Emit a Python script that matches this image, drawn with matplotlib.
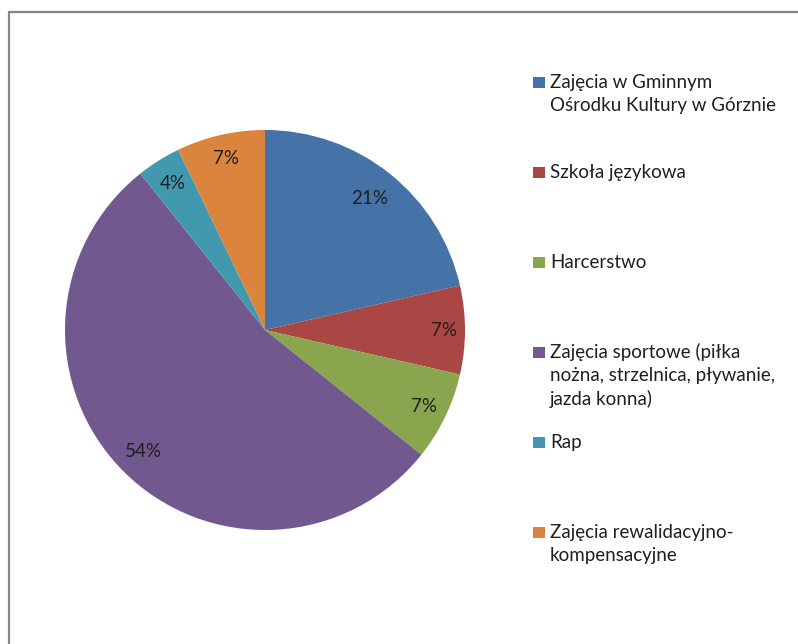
import matplotlib
matplotlib.use("Agg")
import numpy as np
import matplotlib.pyplot as plt
from matplotlib.patches import Rectangle

categories = [
    "Zajęcia w Gminnym\nOśrodku Kultury w Górznie",
    "Szkoła językowa",
    "Harcerstwo",
    "Zajęcia sportowe (piłka\nnożna, strzelnica, pływanie,\njazda konna)",
    "Rap",
    "Zajęcia rewalidacyjno-\nkompensacyjne",
]
values = [6, 2, 2, 15, 1, 2]
colors = ["#4572A7", "#AA4643", "#89A54E", "#71588F", "#4198AF", "#DB843D"]
label_dist = [0.84, 0.895, 0.885, 0.86, 0.865, 0.88]

W, H = 798, 644
fig = plt.figure(figsize=(W / 100, H / 100), dpi=100)
plt.rcParams['font.family'] = ['Lato', 'DejaVu Sans']
txt_color = "#1f1f1f"

# outer frame
fig.add_artist(Rectangle((9 / W, -0.05), 1.2, (H - 12) / H + 0.05, transform=fig.transFigure,
                         fill=False, edgecolor="#868686", linewidth=1.6))

cx, cy, r = 265, 330, 200
ax = fig.add_axes([(cx - r) / W, (H - cy - r) / H, 2 * r / W, 2 * r / H])
wedges, texts, autotexts = ax.pie(values, colors=colors, startangle=90, counterclock=False,
                                  autopct=lambda p: f"{p:.0f}%", pctdistance=0.87,
                                  wedgeprops=dict(linewidth=0),
                                  textprops=dict(fontsize=13.5, color=txt_color))
for w, t, d in zip(wedges, autotexts, label_dist):
    ang = np.deg2rad((w.theta1 + w.theta2) / 2)
    t.set_position((d * np.cos(ang), d * np.sin(ang)))
ax.set_xlim(-1, 1)
ax.set_ylim(-1, 1)
ax.set_aspect("equal")
ax.axis("off")

# legend
leg_baseline = [88, 178, 268, 358, 448, 538]
line_step = 23.5
for lab, col, yb in zip(categories, colors, leg_baseline):
    fig.add_artist(Rectangle((533 / W, (H - yb) / H), 12 / W, 11 / H,
                             transform=fig.transFigure, facecolor=col, edgecolor="none"))
    for i, line in enumerate(lab.split("\n")):
        fig.text(550 / W, (H - yb - i * line_step) / H, line, fontsize=13.5, color=txt_color,
                 ha="left", va="baseline")

fig.savefig("out.png", dpi=100)
